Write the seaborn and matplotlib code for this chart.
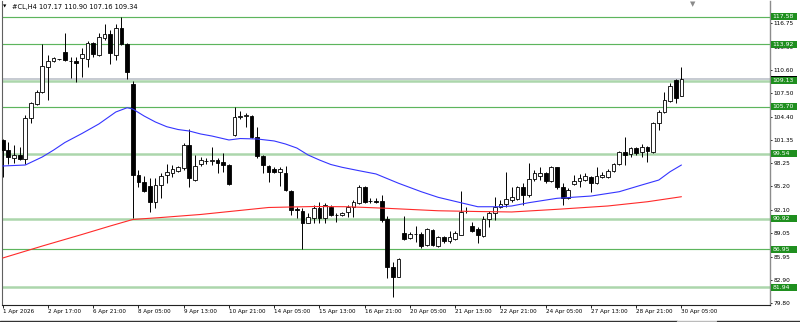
import numpy as np
import pandas as pd
import matplotlib
matplotlib.use("Agg")
import matplotlib.pyplot as plt
import matplotlib.transforms as mtransforms
from matplotlib.patches import Rectangle
from matplotlib.lines import Line2D
import seaborn as sns

# ---------------- data ----------------
opens = [101.3, 100.0, 98.91, 99.35, 98.82, 104.18, 106.03, 107.61, 110.99, 111.74,
         112.0, 112.97, 111.8, 111.74, 112.1, 112.0, 114.07, 112.53, 114.73, 115.26,
         112.53, 116.13, 113.94, 108.67, 96.72, 95.83, 95.3, 93.11, 95.39, 96.72,
         97.02, 97.28, 97.59, 100.67, 96.05, 98.16, 98.6, 98.6, 98.69, 98.47,
         98.03, 101.99, 104.4, 104.45, 104.49, 101.76, 99.22, 97.9, 97.46, 97.15,
         96.94, 94.64, 92.2, 92.0, 90.42, 90.99, 92.32, 90.99, 92.54, 91.44,
         91.44, 91.87, 92.53, 92.98, 95.17, 93.3, 93.32, 93.28, 90.87, 84.63,
         83.3, 89.03, 88.37, 88.94, 88.94, 87.49, 89.46, 87.35, 88.5, 88.05,
         88.24, 88.8, 91.95, 90.0, 89.56, 88.67, 90.87, 91.66, 92.53, 92.89,
         93.42, 93.51, 95.1, 94.08, 96.15, 96.58, 97.02, 95.96, 97.73, 95.17,
         93.64, 95.53, 95.96, 96.05, 96.49, 95.7, 96.49, 96.49, 97.28, 98.16,
         99.78, 99.48, 100.23, 99.78, 100.45, 99.78, 103.6, 105.06, 106.5, 109.24,
         107.17]
highs = [101.5, 101.1, 100.67, 100.45, 104.62, 106.38, 107.92, 113.94, 112.53, 112.31,
         112.05, 115.39, 112.31, 112.31, 113.41, 114.38, 114.29, 115.39, 116.58, 115.83,
         116.58, 117.58, 114.07, 109.1, 97.37, 96.62, 96.28, 96.36, 96.93, 98.12,
         98.03, 97.9, 100.89, 102.74, 99.35, 99.13, 98.9, 100.45, 98.91, 99.57,
         98.1, 105.72, 105.19, 104.85, 104.62, 103.08, 99.35, 98.03, 97.73, 97.73,
         97.9, 94.74, 92.45, 92.32, 91.66, 92.76, 93.19, 93.06, 92.76, 91.75,
         91.9, 92.76, 93.42, 95.39, 95.2, 93.64, 93.64, 94.08, 91.31, 85.29,
         85.73, 91.31, 89.24, 90.0, 89.24, 89.69, 89.56, 88.67, 88.67, 89.37,
         89.37, 94.64, 92.45, 90.56, 89.82, 91.31, 92.0, 93.77, 93.42, 97.15,
         95.17, 95.26, 95.7, 98.34, 97.37, 97.72, 97.15, 97.9, 97.8, 95.62,
         94.96, 96.72, 96.84, 97.02, 96.58, 97.73, 97.15, 97.46, 98.34, 99.92,
         101.76, 100.37, 100.37, 100.8, 100.54, 103.74, 105.28, 107.69, 108.8, 109.33,
         110.90]
lows = [96.5, 98.1, 98.26, 98.69, 98.12, 103.53, 105.94, 107.48, 106.6, 111.57,
        111.9, 111.74, 109.46, 108.93, 109.67, 110.99, 112.31, 112.44, 114.51, 111.31,
        111.87, 113.85, 109.37, 90.99, 95.17, 94.51, 91.88, 92.4, 93.64, 95.62,
        96.49, 97.15, 97.37, 95.17, 95.96, 97.9, 98.16, 98.03, 97.02, 97.15,
        95.4, 101.85, 104.06, 103.08, 101.55, 98.91, 97.02, 95.83, 96.93, 95.26,
        94.64, 91.44, 91.0, 86.92, 90.35, 90.35, 90.42, 90.42, 91.31, 90.56,
        91.3, 91.14, 91.14, 92.89, 93.06, 92.98, 93.06, 90.56, 83.1, 80.59,
        83.23, 88.15, 88.24, 87.92, 87.05, 87.35, 87.35, 87.26, 87.7, 87.7,
        88.15, 88.8, 91.66, 89.24, 87.7, 88.5, 89.9, 90.78, 92.32, 92.53,
        93.19, 93.42, 92.76, 93.85, 95.96, 96.0, 95.7, 95.83, 94.9, 92.76,
        93.5, 95.4, 95.17, 95.96, 94.51, 95.53, 96.28, 96.28, 97.15, 98.03,
        98.03, 99.13, 99.35, 99.13, 98.47, 99.57, 102.65, 104.85, 106.38, 106.16,
        107.16]
closes = [100.0, 99.04, 99.35, 98.82, 104.18, 106.16, 107.61, 111.12, 111.74, 112.18,
          111.99, 111.87, 111.7, 111.44, 112.62, 114.07, 112.62, 114.94, 115.26, 112.76,
          116.13, 113.94, 110.33, 96.72, 95.83, 94.61, 93.19, 95.39, 96.62, 97.07,
          97.46, 97.73, 100.67, 96.28, 97.9, 98.69, 98.62, 98.63, 98.34, 98.03,
          95.53, 104.32, 104.45, 104.6, 101.76, 99.22, 98.03, 97.15, 97.15, 97.46,
          94.74, 92.1, 92.15, 90.42, 91.2, 92.32, 90.99, 92.76, 91.44, 91.5,
          91.74, 92.53, 93.19, 95.17, 93.19, 93.28, 93.2, 90.78, 84.63, 83.3,
          85.6, 88.28, 88.94, 88.9, 87.35, 89.56, 87.49, 88.5, 88.05, 88.5,
          89.03, 91.87, 92.0, 89.37, 88.8, 90.87, 91.74, 92.53, 92.89, 93.51,
          93.86, 95.1, 94.08, 96.15, 97.02, 97.0, 95.96, 97.73, 95.1, 93.64,
          94.74, 95.96, 96.28, 96.58, 95.7, 96.58, 96.72, 97.28, 98.16, 99.78,
          99.35, 100.23, 99.65, 100.37, 99.92, 103.6, 105.06, 106.6, 108.45, 106.9,
          109.34]

blue_idx = [0, 4, 7, 9, 11, 14, 17, 20, 22, 23, 25, 27, 29, 31, 33, 35, 37, 40, 42, 45,
            48, 50, 52, 54, 56, 58, 60, 63, 66, 70, 74, 77, 81, 84, 88, 90, 93, 98, 104,
            109, 113, 116, 118, 120]
blue_val = [97.9, 98.03, 99.09, 100.0, 101.0, 102.18, 103.44, 105.02, 105.58, 105.41,
            104.49, 103.7, 103.08, 102.71, 102.51, 102.12, 101.85, 101.33, 101.52, 101.46,
            101.2, 100.8, 100.27, 99.35, 98.69, 98.1, 97.73, 97.28, 96.85, 95.62,
            94.51, 93.77, 93.06, 92.53, 92.53, 92.63, 93.06, 93.64, 93.94,
            94.51, 95.4, 96.05, 97.15, 98.03]
red_idx = [0, 7, 14, 19, 23, 28, 35, 41, 47, 55, 61, 68, 77, 84, 90, 98, 107, 114, 120]
red_val = [85.77, 87.35, 88.87, 89.99, 90.85, 91.11, 91.51, 91.97, 92.43, 92.56,
           92.53, 92.32, 92.0, 91.9, 91.84, 92.19, 92.63, 93.19, 93.85]

levels = [117.58, 113.92, 109.13, 105.70, 99.54, 90.92, 86.95, 81.94]
level_kind = ["thin", "thin", "thick", "thin", "thick", "thick", "thin", "thick"]
bid_price = 109.34

ytick_vals = [116.75, 113.65, 110.60, 107.50, 104.40, 101.35, 98.25, 95.20,
              92.10, 89.05, 85.95, 82.90, 79.80]
xtick_pos = list(range(0, 121, 8))
xtick_labels = ["1 Apr 2026", "2 Apr 17:00", "6 Apr 21:00", "8 Apr 05:00",
                "9 Apr 13:00", "10 Apr 21:00", "14 Apr 05:00", "15 Apr 13:00",
                "16 Apr 21:00", "20 Apr 05:00", "21 Apr 13:00", "22 Apr 21:00",
                "24 Apr 05:00", "27 Apr 13:00", "28 Apr 21:00", "30 Apr 05:00"]
title = "#CL,H4 107.17 110.90 107.16 109.34"

# ---------------- figure ----------------
sns.set_theme(style="white")
plt.rcParams["font.family"] = ["DejaVu Sans"]

W, H = 800, 322
fig = plt.figure(figsize=(W / 100, H / 100), dpi=100)
fig.patch.set_facecolor("white")
ax = fig.add_axes([2.4 / W, 1 - 305 / H, (770 - 2.4) / W, (305 - 1) / H])
ax.set_facecolor("white")

df = pd.DataFrame({"o": opens, "h": highs, "l": lows, "c": closes})
df["i"] = np.arange(len(df))
up = df["c"] >= df["o"]

# levels
for lv, kind in zip(levels, level_kind):
    if kind == "thin":
        ax.axhline(lv, color="#5db55d", lw=0.85, zorder=1)
    else:
        ax.axhline(lv, color="#acd6ac", lw=1.8, zorder=1)
ax.axhline(bid_price, color="#c2c6ce", lw=1.3, zorder=1)

# candles
ax.vlines(df["i"], df["l"], df["h"], color="black", lw=0.7, zorder=3)
ax.bar(df["i"][up], (df["c"] - df["o"])[up], bottom=df["o"][up], width=0.66,
       color="white", edgecolor="black", linewidth=0.6, zorder=4)
ax.bar(df["i"][~up], (df["o"] - df["c"])[~up], bottom=df["c"][~up], width=0.66,
       color="black", edgecolor="black", linewidth=0.6, zorder=4)

# moving averages
sns.lineplot(x=blue_idx, y=blue_val, ax=ax, color="#3535ff", lw=0.8, zorder=5)
sns.lineplot(x=red_idx, y=red_val, ax=ax, color="#ff2a2a", lw=0.8, zorder=5)

XLIM = (-0.053, 135.66)
YLIM = (79.577, 119.65)
ax.set_xlim(*XLIM)
ax.set_ylim(*YLIM)

# axes / ticks
ax.yaxis.tick_right()
ax.set_yticks(ytick_vals)
ax.set_yticklabels([f"{v:.2f}" for v in ytick_vals])
ax.tick_params(axis="y", direction="out", length=1.6, width=0.6, pad=1.2,
               labelsize=4.2, colors="black", right=True, left=False)
ax.set_xticks(xtick_pos)
ax.set_xticklabels(xtick_labels, ha="left")
ax.tick_params(axis="x", direction="out", length=2.2, width=0.6, pad=1.0,
               labelsize=4.1, colors="black", bottom=True)
for lbl in ax.get_xticklabels():
    lbl.set_horizontalalignment("left")
ax.set_xlabel("")
ax.set_ylabel("")
ax.grid(False)
ax.spines["top"].set_visible(False)
ax.spines["left"].set_color("#606060")
ax.spines["left"].set_linewidth(0.8)
ax.spines["right"].set_color("#8c8c8c")
ax.spines["right"].set_linewidth(1.0)
ax.spines["bottom"].set_color("#222222")
ax.spines["bottom"].set_linewidth(0.8)
if ax.get_legend() is not None:
    ax.get_legend().remove()

# price labels on the right scale
trans = mtransforms.blended_transform_factory(fig.transFigure, ax.transData)
box_h = 7 / 7.586
ax.add_patch(Rectangle((771 / W, bid_price - box_h / 2), 26 / W, box_h, transform=trans,
                       facecolor="black", edgecolor="none", clip_on=False, zorder=9))
for lv in levels:
    ax.add_patch(Rectangle((771 / W, lv - box_h / 2), 26 / W, box_h, transform=trans,
                           facecolor="#1f8f1f", edgecolor="none", clip_on=False, zorder=10))
    ax.text(772.5 / W, lv, f"{lv:.2f}", transform=trans, color="white", fontsize=4.4,
            va="center", ha="left", clip_on=False, zorder=11)
ax.set_xlim(*XLIM)
ax.set_ylim(*YLIM)

# title and markers
fig.text(5 / W, 1 - 7 / H, "\u25BC", fontsize=3.2, color="black", ha="center", va="center")
fig.text(12.5 / W, 1 - 7.5 / H, title, fontsize=4.8, color="black", ha="left", va="center")
fig.text(693 / W, 1 - 4 / H, "\u25BC", fontsize=5, color="#8a8a8a", ha="center", va="center")

# window bottom border
fig.add_artist(Line2D([0, 677 / W], [0.6 / H, 0.6 / H], color="#333333", lw=1.0))
fig.add_artist(Line2D([677 / W, 717 / W], [0.6 / H, 0.6 / H], color="#bbbbbb", lw=1.0))
fig.add_artist(Line2D([717 / W, 1], [0.6 / H, 0.6 / H], color="#333333", lw=1.0))

fig.savefig("out.png", dpi=100, facecolor="white")
